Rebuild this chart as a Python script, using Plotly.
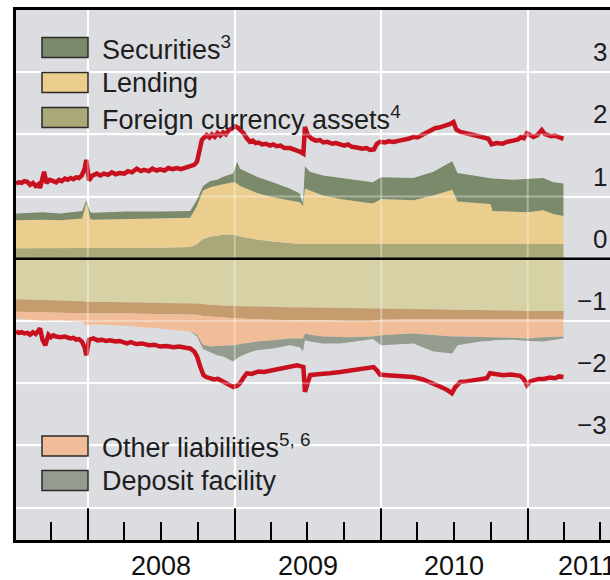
import plotly.graph_objects as go

# ---------------- data (trillions of euro) ----------------
area_dates = [
    "2007-07-06", "2007-09-12", "2007-10-24", "2007-12-18", "2007-12-28", "2008-01-07", "2008-01-14",
    "2008-04-08", "2008-06-29", "2008-09-12", "2008-09-29", "2008-10-14", "2008-11-01", "2008-11-18",
    "2008-12-03", "2008-12-28", "2009-01-07", "2009-01-14", "2009-02-08", "2009-02-25", "2009-04-06",
    "2009-05-18", "2009-06-12", "2009-06-20", "2009-06-25", "2009-07-07", "2009-08-09", "2009-09-20",
    "2009-10-15", "2009-12-11", "2010-01-01", "2010-03-22", "2010-05-11", "2010-06-27", "2010-07-10",
    "2010-09-05", "2010-09-30", "2010-10-05", "2010-11-27", "2011-01-01", "2011-02-09", "2011-03-06",
    "2011-03-31"]

# assets
foreign_currency = [0.17, 0.17, 0.17, 0.17, 0.17, 0.17, 0.17, 0.17, 0.18, 0.19, 0.24, 0.32, 0.36, 0.37,
                    0.39, 0.39, 0.37, 0.36, 0.33, 0.31, 0.28, 0.25, 0.24, 0.24, 0.24, 0.24, 0.23, 0.23,
                    0.23, 0.23, 0.24, 0.24, 0.24, 0.24, 0.24, 0.24, 0.24, 0.24, 0.24, 0.24, 0.24, 0.24, 0.24]
lending = [0.45, 0.46, 0.45, 0.48, 0.73, 0.47, 0.46, 0.47, 0.47, 0.47, 0.61, 0.78, 0.79, 0.81,
           0.81, 0.84, 0.84, 0.81, 0.77, 0.75, 0.71, 0.69, 0.67, 0.61, 0.89, 0.86, 0.79, 0.73,
           0.71, 0.66, 0.72, 0.70, 0.78, 0.87, 0.68, 0.65, 0.64, 0.53, 0.52, 0.51, 0.54, 0.48, 0.45]
securities = [0.11, 0.12, 0.11, 0.12, 0.04, 0.11, 0.11, 0.12, 0.11, 0.11, 0.10, 0.07, 0.10, 0.09,
              0.12, 0.14, 0.35, 0.28, 0.27, 0.26, 0.24, 0.19, 0.14, 0.04, 0.36, 0.30, 0.32, 0.34,
              0.34, 0.34, 0.35, 0.36, 0.38, 0.46, 0.46, 0.43, 0.42, 0.52, 0.51, 0.53, 0.52, 0.51, 0.52]

# liabilities (negative)
banknotes = [-0.65, -0.66, -0.67, -0.68, -0.69, -0.69, -0.69, -0.70, -0.71, -0.71, -0.72, -0.73, -0.74, -0.75,
             -0.75, -0.76, -0.76, -0.76, -0.77, -0.77, -0.77, -0.78, -0.78, -0.78, -0.78, -0.78, -0.79, -0.79,
             -0.79, -0.80, -0.80, -0.81, -0.81, -0.82, -0.82, -0.82, -0.83, -0.83, -0.83, -0.84, -0.84, -0.84, -0.84]
current_accounts = [-0.20, -0.20, -0.19, -0.19, -0.19, -0.19, -0.19, -0.18, -0.18, -0.18, -0.18, -0.19, -0.19, -0.19,
                    -0.20, -0.20, -0.20, -0.20, -0.20, -0.20, -0.21, -0.21, -0.21, -0.21, -0.21, -0.21, -0.20, -0.21,
                    -0.21, -0.20, -0.18, -0.16, -0.16, -0.15, -0.15, -0.15, -0.14, -0.14, -0.14, -0.13, -0.13, -0.13, -0.13]
other_liabilities = [-0.11, -0.14, -0.13, -0.14, -0.19, -0.18, -0.17, -0.20, -0.23, -0.28, -0.32, -0.46, -0.48, -0.46,
                     -0.45, -0.43, -0.42, -0.41, -0.38, -0.36, -0.33, -0.29, -0.29, -0.29, -0.21, -0.23, -0.26, -0.26,
                     -0.26, -0.25, -0.25, -0.23, -0.26, -0.28, -0.28, -0.28, -0.29, -0.29, -0.30, -0.31, -0.29, -0.28, -0.28]
deposit_facility = [0.0, 0.0, 0.0, 0.0, 0.0, 0.0, 0.0, 0.0, 0.0, 0.0, -0.03, -0.07, -0.09, -0.15,
                    -0.17, -0.26, -0.22, -0.20, -0.15, -0.14, -0.13, -0.11, -0.14, -0.21, -0.11, -0.11, -0.11, -0.10,
                    -0.08, -0.04, -0.16, -0.16, -0.26, -0.27, -0.14, -0.08, -0.06, -0.05, -0.03, -0.04, -0.07, -0.05, -0.03]

# totals (red lines)
total_assets_dates = [
    "2007-07-06", "2007-07-13", "2007-07-20", "2007-07-27", "2007-08-03", "2007-08-10", "2007-08-17", "2007-08-24",
    "2007-08-31", "2007-09-04", "2007-09-10", "2007-09-14", "2007-09-20", "2007-09-28", "2007-10-07", "2007-10-14",
    "2007-10-21", "2007-10-28", "2007-11-05", "2007-11-12", "2007-11-19", "2007-11-26", "2007-12-03", "2007-12-10",
    "2007-12-17", "2007-12-24", "2007-12-28", "2008-01-04", "2008-01-11", "2008-01-23", "2008-02-01", "2008-02-10",
    "2008-02-20", "2008-03-01", "2008-03-10", "2008-03-20", "2008-04-01", "2008-04-10", "2008-04-20", "2008-05-02",
    "2008-05-12", "2008-05-20", "2008-06-01", "2008-06-10", "2008-06-20", "2008-06-29", "2008-07-10", "2008-07-20",
    "2008-07-30", "2008-08-10", "2008-08-20", "2008-09-01", "2008-09-12", "2008-09-22", "2008-09-29", "2008-10-06",
    "2008-10-11", "2008-10-18", "2008-10-23", "2008-10-30", "2008-11-05", "2008-11-12", "2008-11-19", "2008-11-26",
    "2008-12-03", "2008-12-10", "2008-12-17", "2008-12-24", "2009-01-02", "2009-01-09", "2009-01-16", "2009-01-23",
    "2009-02-01", "2009-02-08", "2009-02-15", "2009-02-22", "2009-03-01", "2009-03-10", "2009-03-20", "2009-03-30",
    "2009-04-07", "2009-04-15", "2009-04-25", "2009-05-05", "2009-05-19", "2009-05-28", "2009-06-05", "2009-06-13",
    "2009-06-21", "2009-06-25", "2009-07-01", "2009-07-12", "2009-07-22", "2009-08-01", "2009-08-10", "2009-08-20",
    "2009-09-01", "2009-09-10", "2009-09-21", "2009-10-01", "2009-10-10", "2009-10-20", "2009-11-01", "2009-11-15",
    "2009-11-25", "2009-12-04", "2009-12-14", "2009-12-21", "2009-12-29", "2010-01-10", "2010-01-20", "2010-02-01",
    "2010-02-15", "2010-03-01", "2010-03-10", "2010-03-22", "2010-04-01", "2010-04-15", "2010-04-25", "2010-05-03",
    "2010-05-15", "2010-05-25", "2010-06-05", "2010-06-13", "2010-06-22", "2010-06-30", "2010-07-07", "2010-07-17",
    "2010-07-27", "2010-08-05", "2010-08-19", "2010-09-01", "2010-09-12", "2010-09-25", "2010-10-03", "2010-10-15",
    "2010-10-30", "2010-11-10", "2010-11-26", "2010-12-08", "2010-12-15", "2010-12-22", "2010-12-30", "2011-01-07",
    "2011-01-15", "2011-01-25", "2011-02-05", "2011-02-12", "2011-02-18", "2011-02-28", "2011-03-10", "2011-03-20",
    "2011-03-31"]
total_assets = [
    1.21, 1.23, 1.22, 1.25, 1.24, 1.19, 1.22, 1.17,
    1.20, 1.14, 1.30, 1.40, 1.22, 1.27, 1.25, 1.23,
    1.27, 1.25, 1.29, 1.27, 1.30, 1.28, 1.31, 1.30,
    1.34, 1.45, 1.59, 1.26, 1.33, 1.37, 1.34, 1.37,
    1.35, 1.39, 1.36, 1.38, 1.37, 1.41, 1.39, 1.45,
    1.41, 1.43, 1.41, 1.45, 1.42, 1.44, 1.42, 1.46,
    1.44, 1.46, 1.44, 1.47, 1.48, 1.51, 1.56, 1.75,
    1.91, 1.96, 1.99, 1.95, 2.00, 1.96, 2.02, 1.98,
    2.03, 2.00, 2.07, 2.09, 2.13, 2.11, 2.07, 2.02,
    1.93, 1.88, 1.90, 1.86, 1.87, 1.84, 1.85, 1.82,
    1.84, 1.81, 1.82, 1.78, 1.78, 1.75, 1.74, 1.72,
    1.69, 2.12, 2.00, 1.93, 1.90, 1.91, 1.87, 1.88,
    1.85, 1.86, 1.83, 1.82, 1.84, 1.80, 1.79, 1.77,
    1.78, 1.75, 1.76, 1.85, 1.88, 1.87, 1.89, 1.88,
    1.90, 1.91, 1.93, 1.96, 1.95, 2.00, 2.03, 2.07,
    2.10, 2.11, 2.13, 2.15, 2.17, 2.20, 2.08, 2.04,
    2.02, 2.00, 1.99, 1.97, 1.95, 1.93, 1.84, 1.86,
    1.85, 1.88, 1.90, 1.92, 1.96, 1.94, 2.02, 1.98,
    1.96, 1.99, 2.07, 2.01, 1.99, 1.97, 1.98, 1.95,
    1.93]

total_liab_dates = [
    "2007-07-06", "2007-07-13", "2007-07-20", "2007-07-27", "2007-08-03", "2007-08-10", "2007-08-17", "2007-08-24",
    "2007-09-04", "2007-09-10", "2007-09-17", "2007-09-25", "2007-10-01", "2007-10-07", "2007-10-14", "2007-10-25",
    "2007-11-05", "2007-11-18", "2007-11-26", "2007-12-03", "2007-12-10", "2007-12-17", "2007-12-24", "2007-12-28",
    "2008-01-04", "2008-01-15", "2008-01-25", "2008-02-05", "2008-02-15", "2008-02-25", "2008-03-10", "2008-03-20",
    "2008-04-07", "2008-04-17", "2008-05-01", "2008-05-15", "2008-06-01", "2008-06-15", "2008-06-29", "2008-07-15",
    "2008-08-01", "2008-08-15", "2008-09-01", "2008-09-12", "2008-09-22", "2008-09-29", "2008-10-08", "2008-10-15",
    "2008-10-22", "2008-11-01", "2008-11-10", "2008-11-20", "2008-12-04", "2008-12-15", "2008-12-29", "2009-01-07",
    "2009-01-14", "2009-01-22", "2009-01-31", "2009-02-12", "2009-03-01", "2009-03-15", "2009-04-07", "2009-04-20",
    "2009-05-05", "2009-05-20", "2009-06-05", "2009-06-15", "2009-06-21", "2009-06-25", "2009-07-01", "2009-07-08",
    "2009-07-20", "2009-08-10", "2009-08-25", "2009-09-21", "2009-10-10", "2009-11-01", "2009-11-20", "2009-12-13",
    "2009-12-22", "2009-12-29", "2010-01-15", "2010-02-10", "2010-03-01", "2010-03-22", "2010-04-15", "2010-05-11",
    "2010-05-30", "2010-06-15", "2010-06-26", "2010-07-05", "2010-07-17", "2010-08-01", "2010-08-20", "2010-09-05",
    "2010-09-21", "2010-09-29", "2010-10-15", "2010-11-01", "2010-11-20", "2010-12-13", "2010-12-22", "2010-12-30",
    "2011-01-07", "2011-01-15", "2011-01-28", "2011-02-10", "2011-02-25", "2011-03-10", "2011-03-20", "2011-03-31"]
total_liabilities = [
    -1.17, -1.19, -1.18, -1.20, -1.19, -1.22, -1.18, -1.21,
    -1.12, -1.30, -1.39, -1.22, -1.26, -1.23, -1.25, -1.26,
    -1.25, -1.28, -1.27, -1.30, -1.29, -1.33, -1.42, -1.55,
    -1.30, -1.28, -1.31, -1.30, -1.32, -1.31, -1.33, -1.32,
    -1.36, -1.34, -1.37, -1.36, -1.39, -1.38, -1.41, -1.40,
    -1.42, -1.41, -1.43, -1.44, -1.49, -1.57, -1.75, -1.87,
    -1.90, -1.92, -1.94, -1.93, -1.98, -2.00, -2.06, -2.04,
    -2.00, -1.92, -1.84, -1.85, -1.81, -1.82, -1.79, -1.78,
    -1.76, -1.74, -1.71, -1.73, -1.74, -2.14, -1.98, -1.87,
    -1.86, -1.84, -1.84, -1.82, -1.80, -1.78, -1.77, -1.74,
    -1.80, -1.86, -1.87, -1.88, -1.89, -1.90, -1.94, -2.00,
    -2.06, -2.11, -2.16, -2.06, -1.98, -1.97, -1.95, -1.94,
    -1.92, -1.84, -1.86, -1.87, -1.86, -1.88, -1.93, -2.03,
    -1.97, -1.95, -1.93, -1.93, -1.91, -1.92, -1.89, -1.90]

y_tick_values = [3, 2, 1, 0, -1, -2, -3]
y_tick_text = ["3", "2", "1", "0", "\u22121", "\u22122", "\u22123"]
year_labels = ["2008", "2009", "2010", "2011"]
year_label_dates = ["2008-07-02", "2009-07-02", "2010-07-02", "2011-05-28"]

# ---------------- styling ----------------
C_SEC = "#7a8a6a"
C_LEND = "#ebcd8e"
C_FX = "#aaa878"
C_BANK = "#d7d2a6"
C_CURR = "#c59c6d"
C_OTHER = "#f0bd98"
C_DEP = "#949c8f"
C_RED = "#c8101f"
BG = "#dcdde0"
FONT = "Liberation Sans, Arial, sans-serif"

W, H = 610, 580
ML, MR, MT, MB = 16, 0, 10, 40
PW, PH = W - ML - MR, H - MT - MB


def px_x(px):
    """page pixel -> paper x"""
    return (px - ML) / PW


def px_y(py):
    """page pixel -> paper y"""
    return (H - MB - py) / PH


fig = go.Figure()


def area(y, color, group, name):
    fig.add_trace(go.Scatter(x=area_dates, y=y, name=name, stackgroup=group, mode="lines",
                             line=dict(width=0, color=color), fillcolor=color, showlegend=False,
                             hoverinfo="skip"))


area(foreign_currency, C_FX, "assets", "Foreign currency assets")
area(lending, C_LEND, "assets", "Lending")
area(securities, C_SEC, "assets", "Securities")
area(banknotes, C_BANK, "liab", "Banknotes")
area(current_accounts, C_CURR, "liab", "Current accounts")
area(other_liabilities, C_OTHER, "liab", "Other liabilities")
area(deposit_facility, C_DEP, "liab", "Deposit facility")

fig.add_trace(go.Scatter(x=total_assets_dates, y=total_assets, mode="lines",
                         line=dict(color=C_RED, width=4.5), showlegend=False, hoverinfo="skip"))
fig.add_trace(go.Scatter(x=total_liab_dates, y=total_liabilities, mode="lines",
                         line=dict(color=C_RED, width=4.5), showlegend=False, hoverinfo="skip"))

shapes = []
# faint gridlines showing through the areas
for yr in ["2008-01-01", "2009-01-01", "2010-01-01", "2011-01-01"]:
    shapes.append(dict(type="line", xref="x", yref="y", x0=yr, x1=yr, y0=-4, y1=4,
                       line=dict(color="rgba(255,255,255,0.35)", width=2), layer="above"))
for v in [3, 2, 1, -1, -2, -3, -4]:
    shapes.append(dict(type="line", xref="paper", yref="y", x0=0, x1=1, y0=v, y1=v,
                       line=dict(color="rgba(255,255,255,0.35)", width=2), layer="above"))
# zero line
shapes.append(dict(type="line", xref="paper", yref="y", x0=0, x1=1, y0=0, y1=0,
                   line=dict(color="black", width=2.5), layer="above"))

annotations = []
legend_top = [("Securities<sup>3</sup>", C_SEC, 47.5), ("Lending", C_LEND, 82.5),
              ("Foreign currency assets<sup>4</sup>", C_FX, 117.5)]
legend_bot = [("Other liabilities<sup>5, 6</sup>", C_OTHER, 446), ("Deposit facility", C_DEP, 480.5)]
for text, col, yc in legend_top + legend_bot:
    shapes.append(dict(type="rect", xref="paper", yref="paper", x0=px_x(42), x1=px_x(88),
                       y0=px_y(yc + 10), y1=px_y(yc - 10), fillcolor=col,
                       line=dict(color="#2b2b2b", width=1.5), layer="above"))
    annotations.append(dict(text=text, xref="paper", yref="paper", x=px_x(100), y=px_y(yc),
                            xanchor="left", yanchor="middle", showarrow=False,
                            font=dict(family=FONT, size=27, color="#1e1e1e")))

for v, t in zip(y_tick_values, y_tick_text):
    annotations.append(dict(text=t, xref="paper", yref="y", x=px_x(609), y=v, xanchor="right",
                            yanchor="bottom", yshift=3, showarrow=False,
                            font=dict(family=FONT, size=26, color="#1e1e1e")))

for d, t in zip(year_label_dates, year_labels):
    annotations.append(dict(text=t, xref="x", yref="paper", x=d, y=px_y(566), xanchor="center",
                            yanchor="middle", showarrow=False,
                            font=dict(family=FONT, size=27, color="#111")))

fig.update_layout(
    width=W, height=H, margin=dict(l=ML, r=MR, t=MT, b=MB, autoexpand=False),
    paper_bgcolor="white", plot_bgcolor=BG,
    font=dict(family=FONT, color="black"),
    showlegend=False, shapes=shapes, annotations=annotations,
    xaxis=dict(type="date", range=["2007-07-06", "2011-07-25"], automargin=False,
               tick0="2007-01-01", dtick="M12", showticklabels=False,
               ticks="inside", ticklen=32, tickwidth=2, tickcolor="black",
               showgrid=True, gridcolor="white", gridwidth=2,
               minor=dict(dtick="M3", tick0="2007-01-01", ticks="inside", ticklen=18,
                          tickwidth=2, tickcolor="black", showgrid=False),
               showline=True, linecolor="black", linewidth=3, mirror=True,
               zeroline=False, fixedrange=True),
    yaxis=dict(range=[-4.52, 4.0], tick0=0, dtick=1, showgrid=True, gridcolor="white", gridwidth=2,
               zeroline=False, showticklabels=False, ticks="", automargin=False,
               showline=True, linecolor="black", linewidth=3, mirror=False, fixedrange=True),
)

fig.write_html("out.html", config={"displayModeBar": False, "staticPlot": True},
               post_script="document.body.style.margin='0px';document.body.style.overflow='hidden';")
